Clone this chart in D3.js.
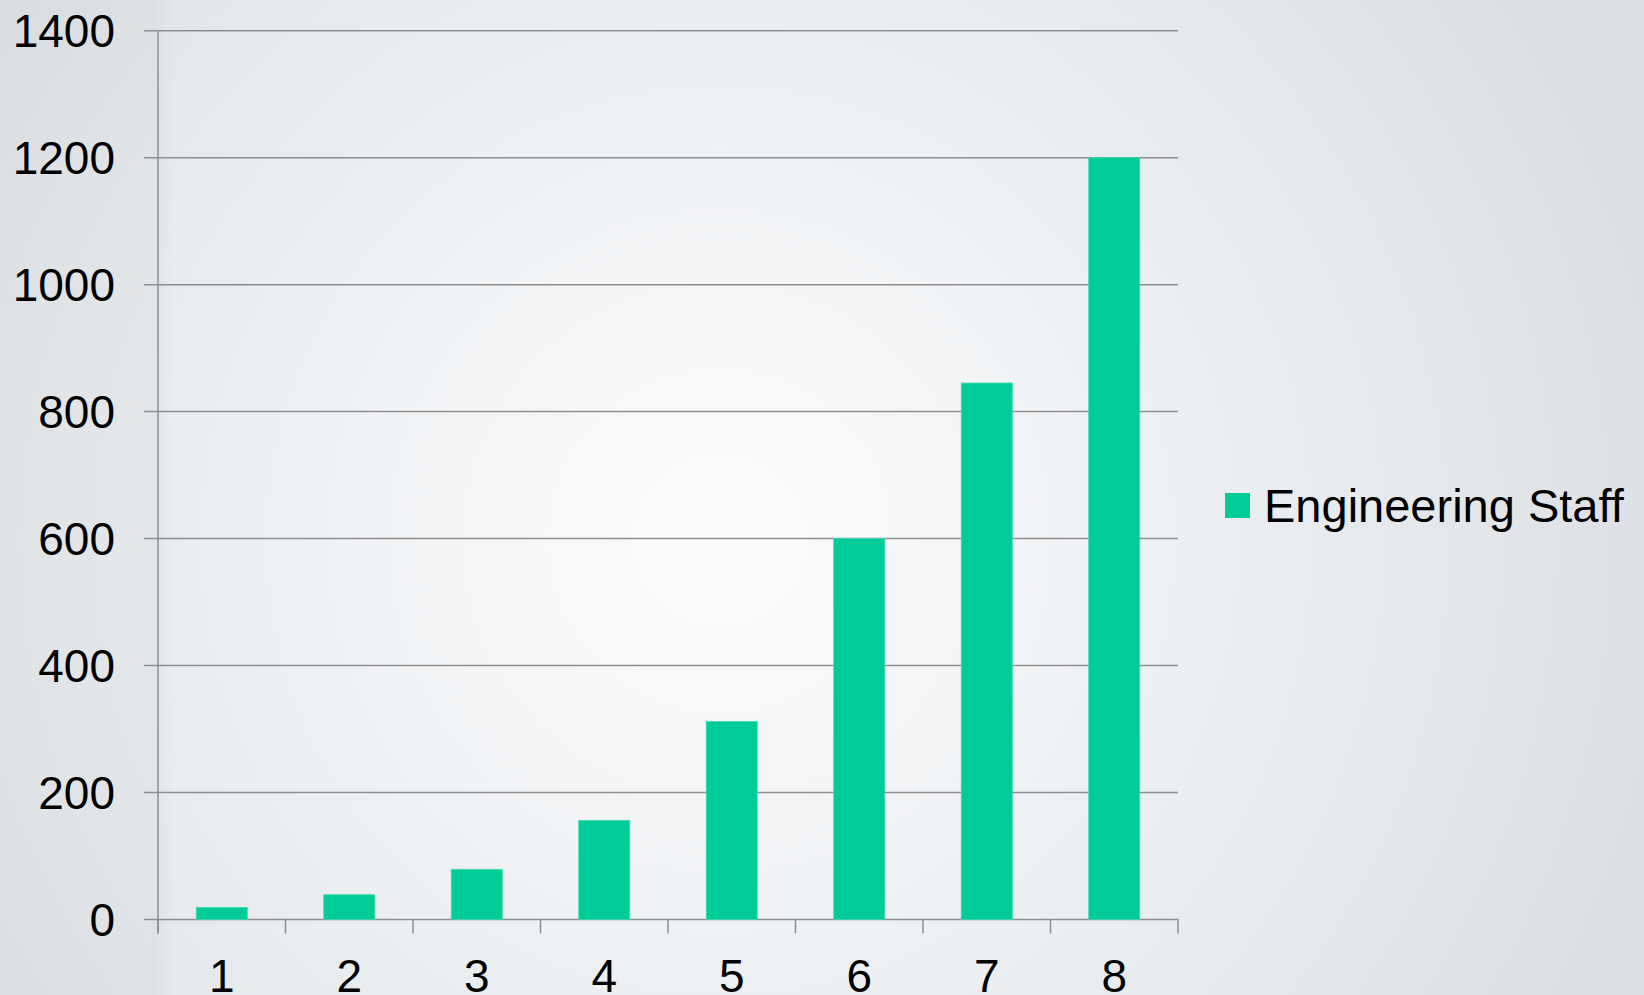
<!DOCTYPE html>
<html>
<head>
<meta charset="utf-8">
<script src="https://cdn.jsdelivr.net/npm/d3@7"></script>
<style>
  html, body { margin: 0; padding: 0; overflow: hidden; }
  svg { display: block; font-family: "Liberation Sans", Arial, sans-serif; }
</style>
</head>
<body>
<svg id="chart" width="1644" height="995"></svg>
<script>
// Chart data
const categories = ["1", "2", "3", "4", "5", "6", "7", "8"];
const staffValues = [19, 39, 79, 156, 312, 600, 845, 1200];
const seriesName = "Engineering Staff";
const yTickValues = [0, 200, 400, 600, 800, 1000, 1200, 1400];

const W = 1644, H = 995;
const plot = { left: 158, right: 1178, top: 30.7, bottom: 919.5 };
const barColor = "#00cc99";
const gridColor = "#8f8f8f";

const svg = d3.select("#chart");
const defs = svg.append("defs");

// Slide-style backdrop: soft radial light in the middle fading to grey-blue edges
const rg = defs.append("radialGradient")
  .attr("id", "bg").attr("gradientUnits", "userSpaceOnUse")
  .attr("cx", 720).attr("cy", 540).attr("r", 1000);
rg.append("stop").attr("offset", 0).attr("stop-color", "#fbfbfb");
rg.append("stop").attr("offset", 0.3).attr("stop-color", "#f2f4f6");
rg.append("stop").attr("offset", 0.7).attr("stop-color", "#e5e9ec");
rg.append("stop").attr("offset", 1).attr("stop-color", "#dadee2");
svg.append("rect").attr("width", W).attr("height", H).attr("fill", "url(#bg)");

// Darker left panel with a soft edge
const lg = defs.append("linearGradient").attr("id", "edge")
  .attr("x1", 0).attr("x2", 1).attr("y1", 0).attr("y2", 0);
lg.append("stop").attr("offset", 0).attr("stop-color", "#000").attr("stop-opacity", 0.03);
lg.append("stop").attr("offset", 1).attr("stop-color", "#000").attr("stop-opacity", 0);
svg.append("rect").attr("x", 0).attr("y", 0).attr("width", 152).attr("height", H)
  .attr("fill", "#000").attr("opacity", 0.02);
svg.append("rect").attr("x", 152).attr("y", 0).attr("width", 22).attr("height", H)
  .attr("fill", "url(#edge)");

// Scales
const x = d3.scaleBand().domain(categories)
  .range([plot.left, plot.right]).paddingInner(0.6).paddingOuter(0.3);
const xCell = d3.scaleBand().domain(categories).range([plot.left, plot.right]).padding(0);
const y = d3.scaleLinear().domain([0, 1400]).range([plot.bottom, plot.top]);

// Horizontal gridlines with short ticks to the left
const grid = svg.append("g");
yTickValues.forEach(v => {
  grid.append("line")
    .attr("x1", plot.left - 14).attr("x2", plot.right)
    .attr("y1", y(v)).attr("y2", y(v))
    .attr("stroke", gridColor).attr("stroke-width", 1.5);
});

// Y axis line, continues down to the first category tick
svg.append("line")
  .attr("x1", plot.left).attr("x2", plot.left)
  .attr("y1", plot.top).attr("y2", plot.bottom + 14)
  .attr("stroke", gridColor).attr("stroke-width", 1.5);

// Category boundary ticks below the baseline
const boundaries = categories.map(c => xCell(c)).concat([plot.right]);
boundaries.forEach(bx => {
  svg.append("line")
    .attr("x1", bx).attr("x2", bx)
    .attr("y1", plot.bottom).attr("y2", plot.bottom + 14)
    .attr("stroke", gridColor).attr("stroke-width", 1.5);
});

// Bars
svg.append("g").selectAll("rect")
  .data(staffValues)
  .join("rect")
  .attr("x", (d, i) => x(categories[i]))
  .attr("width", x.bandwidth())
  .attr("y", d => y(d))
  .attr("height", d => y(0) - y(d))
  .attr("fill", barColor)
  .attr("stroke", "#3fd8b0").attr("stroke-width", 0.8);

// Y tick labels
svg.append("g").selectAll("text")
  .data(yTickValues)
  .join("text")
  .attr("x", 115).attr("y", d => y(d) + 16)
  .attr("text-anchor", "end")
  .attr("font-size", 46).attr("fill", "#000")
  .text(d => d);

// X tick labels
svg.append("g").selectAll("text")
  .data(categories)
  .join("text")
  .attr("x", d => x(d) + x.bandwidth() / 2).attr("y", 992)
  .attr("text-anchor", "middle")
  .attr("font-size", 46).attr("fill", "#000")
  .text(d => d);

// Legend
const legend = svg.append("g");
legend.append("rect")
  .attr("x", 1225).attr("y", 493).attr("width", 25).attr("height", 25)
  .attr("fill", barColor);
legend.append("text")
  .attr("x", 1264).attr("y", 521.5)
  .attr("font-size", 47).attr("fill", "#000")
  .text(seriesName);
</script>
</body>
</html>
